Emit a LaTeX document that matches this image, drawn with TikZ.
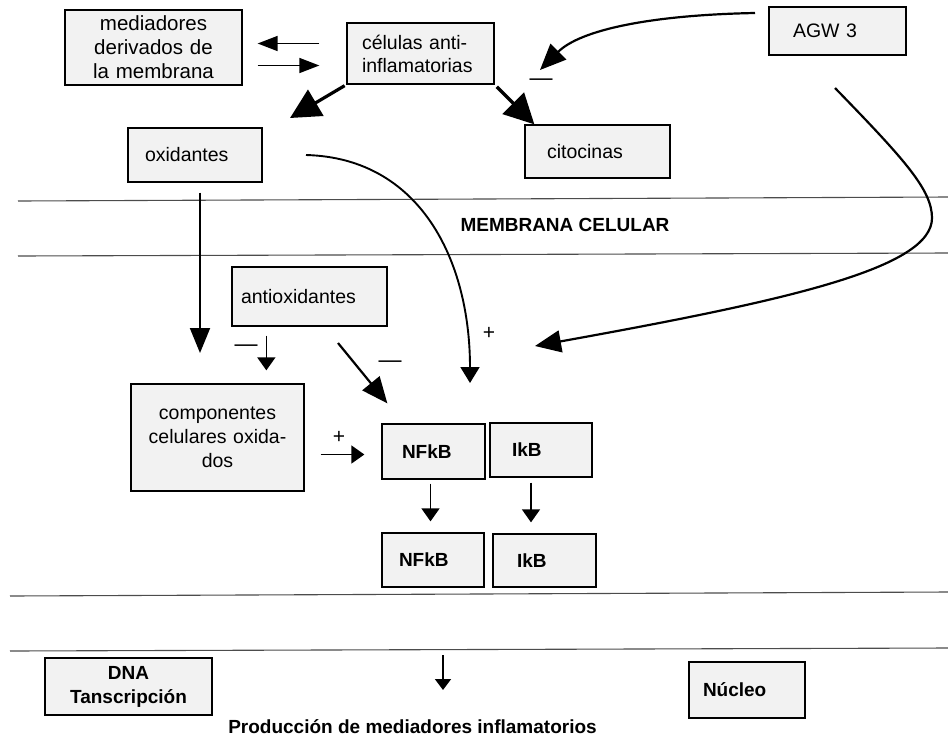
\documentclass[tikz,border=0pt]{standalone}
\usepackage{fontspec}
\setmainfont{Liberation Sans}
\usetikzlibrary{arrows.meta}

\begin{document}
\begin{tikzpicture}[x=1pt,y=-1pt]
	% Estilos
	\tikzstyle{caja}=[draw=black,line width=1.3pt,fill=black!5,inner ysep=0pt,font=\fontsize{19.5}{24}\selectfont]
	\tikzstyle{negrita}=[font=\fontsize{19}{24}\selectfont\bfseries]
	\tikzstyle{flecha}=[-{Triangle[length=13pt,width=18pt]},line width=1.6pt]
	\tikzstyle{flechamed}=[-{Triangle[length=20pt,width=15pt]},line width=1.6pt]
	\tikzstyle{flechagrande}=[-{Triangle[length=30pt,width=30pt]},line width=3.2pt]
	\tikzstyle{flechacurva}=[-{Triangle[length=26pt,width=22pt]},line width=2.2pt]
	\tikzstyle{membrana}=[draw=black!70,line width=1.1pt]
	\tikzstyle{signo}=[inner sep=0pt,font=\fontsize{21}{21}\selectfont]
	\tikzstyle{guion}=[inner sep=0pt,font=\fontsize{23}{23}\selectfont]
	% Marco
	\useasboundingbox (0,0) rectangle (948,740);
	% Membranas
	\draw[membrana] (18,201) -- (948,197);
	\draw[membrana] (18,256) -- (948,253);
	\draw[membrana] (10,596) -- (948,592);
	\draw[membrana] (10,651) -- (948,648);
	\node[negrita] (memb) at (565,225) {MEMBRANA CELULAR};
	% Nodos
	\node[caja,text width=167pt,inner xsep=5pt,minimum height=75pt,align=center,font=\fontsize{20.5}{24}\selectfont] (med) at (153.5,47.5) {mediadores\\derivados de\\la membrana};
	\node[caja,text width=117pt,inner xsep=15pt,minimum height=61pt,align=left,font=\fontsize{19.5}{23}\selectfont] (cel) at (420.5,53.5) {células anti-\\inflamatorias};
	\node[caja,text width=89pt,inner xsep=24pt,minimum height=48pt,align=left] (agw) at (837.5,31) {AGW 3};
	\node[caja,text width=100pt,inner xsep=17pt,minimum height=54pt,align=left] (oxi) at (195,155) {oxidantes};
	\node[caja,text width=101pt,inner xsep=22pt,minimum height=53pt,align=left] (cit) at (597.5,151.5) {citocinas};
	\node[caja,text width=137pt,inner xsep=9pt,minimum height=59pt,align=left] (antiox) at (309.5,296.5) {antioxidantes};
	\node[caja,text width=163pt,inner xsep=5pt,minimum height=107pt,align=center] (comp) at (217.5,437.5) {componentes\\celulares oxida-\\dos};
	\node[caja,negrita,text width=63pt,inner xsep=20pt,minimum height=55pt,align=left] (nfkbA) at (433.5,451.5) {NFkB};
	\node[caja,negrita,text width=58pt,inner xsep=22pt,minimum height=54pt,align=left] (ikbA) at (541,450) {IkB};
	\node[caja,negrita,text width=68pt,inner xsep=17pt,minimum height=54pt,align=left] (nfkbB) at (433,560) {NFkB};
	\node[caja,negrita,text width=55pt,inner xsep=24pt,minimum height=53pt,align=left] (ikbB) at (544.5,560.5) {IkB};
	\node[caja,negrita,text width=157pt,inner xsep=5pt,minimum height=57pt,align=center] (dna) at (128.5,686.5) {DNA\\Tanscripción};
	\node[caja,negrita,text width=88pt,inner xsep=14pt,minimum height=56pt,align=left] (nucleo) at (747,690) {Núcleo};
	\node[negrita,anchor=base,inner sep=0pt] (prod) at (412.5,733) {Producción de mediadores inflamatorios};
	% Puntos libres
	\coordinate (celOxi) at (290,118);
	\coordinate (agwA) at (755,13);
	\coordinate (agwB) at (540,70);
	\coordinate (agwC) at (835,88);
	\coordinate (agwM) at (932,218);
	\coordinate (agwD) at (535,346);
	\coordinate (oxiA) at (306,155);
	\coordinate (oxiB) at (470,383);
	\coordinate (oxiC) at (200,353);
	\coordinate (antioxA) at (338,343);
	\coordinate (nucA) at (443,655);
	\coordinate (nucB) at (443,690);
	% Flechas
	\draw[flechamed,shorten <=27pt,shorten >=15pt] ([yshift=10pt]cel.west) -- ([yshift=10pt]cel.west -| med.east);
	\draw[flechamed,shorten <=15pt,shorten >=27pt] ([yshift=-12pt]cel.west -| med.east) -- ([yshift=-12pt]cel.west);
	\draw[flechagrande,shorten <=2pt] (cel.south west) -- (celOxi);
	\draw[flechagrande,shorten <=3pt] (cel.south east) -- ([xshift=10pt]cit.north west);
	\draw[flechacurva] (agwA) .. controls (650,15) and (580,30) .. (agwB);
	\draw[flechacurva] (agwC) .. controls (905,160) and (932,190) .. (agwM) .. controls (932,268) and (790,300) .. (agwD);
	\draw[flechacurva,line width=1.9pt,-{Triangle[length=25pt,width=20pt]},shorten <=10pt] ([xshift=5pt]oxi.south) -- (oxiC);
	\draw[flechacurva,line width=1.9pt,-{Triangle[length=16pt,width=19pt]}] (oxiA) .. controls (420,158) and (470,260) .. (oxiB);
	\draw[flecha,shorten <=9pt,shorten >=13pt] ([xshift=35pt]antiox.south west) -- ([xshift=35pt]antiox.south west |- comp.north);
	\draw[flechacurva] (antioxA) -- ([xshift=6pt,yshift=20pt]nfkbA.north west);
	\draw[flecha,shorten <=16pt,shorten >=17pt] ([yshift=-17pt]comp.east) -- ([yshift=-17pt]comp.east -| nfkbA.west);
	\draw[flecha,shorten <=4pt,shorten >=11pt] ([xshift=-3pt]nfkbA.south) -- ([xshift=-3pt]nfkbA.south |- nfkbB.north);
	\draw[flecha,shorten <=5pt,shorten >=11pt] ([xshift=-10pt]ikbA.south) -- ([xshift=-10pt]ikbA.south |- ikbB.north);
	\draw[flecha,-{Triangle[length=11pt,width=16pt]}] (nucA) -- (nucB);
	% Signos
	\node[guion] (s1) at (541,82) {—};
	\node[guion] (s2) at (246,348) {—};
	\node[guion] (s3) at (390,364) {—};
	\node[signo] (s4) at (489,333) {+};
	\node[signo] (s5) at (339,437) {+};
\end{tikzpicture}
\end{document}
